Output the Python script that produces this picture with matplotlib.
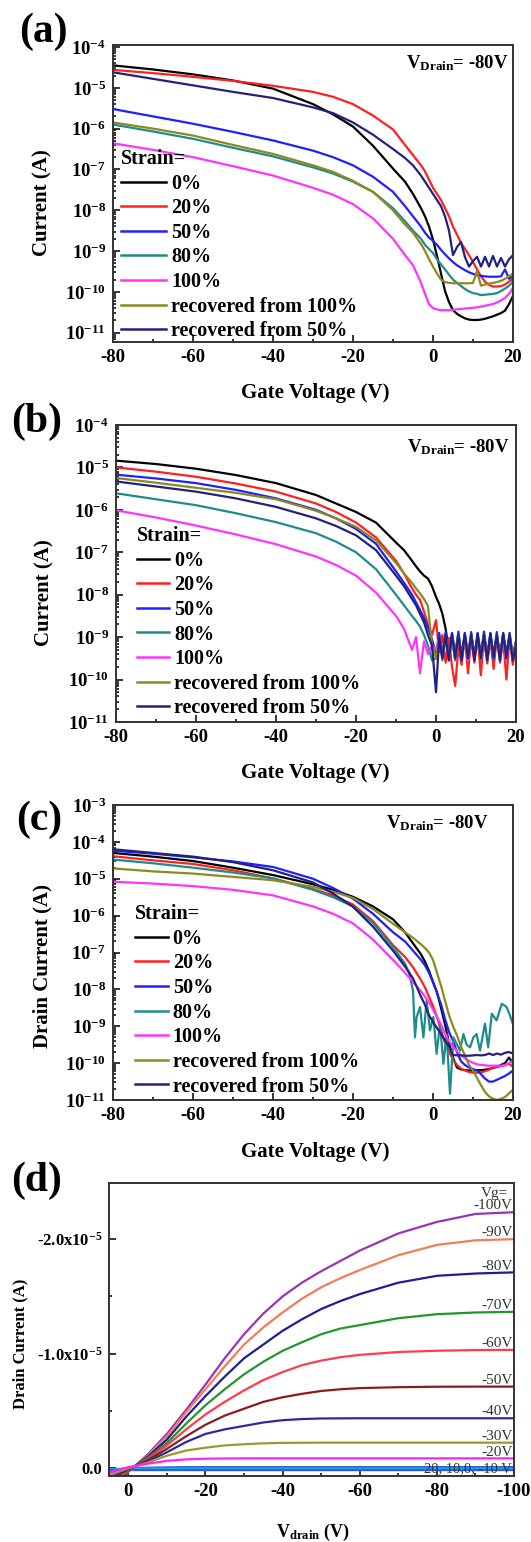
import matplotlib

matplotlib.use("Agg")
import matplotlib.pyplot as plt
import numpy as np
from matplotlib.lines import Line2D
from matplotlib.ticker import FixedLocator, FuncFormatter, LogLocator, NullFormatter

plt.rcParams.update({
    "font.family": "Liberation Serif",
    "font.weight": "bold",
    "mathtext.fontset": "custom",
    "mathtext.rm": "Liberation Serif:bold",
    "mathtext.bf": "Liberation Serif:bold",
    "mathtext.it": "Liberation Serif:bold",
    "axes.unicode_minus": False,
})

W, H = 531, 1542

STRAIN_LABELS = ["0%", "20%", "50%", "80%", "100%", "recovered from 100%", "recovered from 50%"]
STRAIN_COLORS = ["#000000", "#ff2020", "#2020ff", "#1f8c8c", "#ff33ff", "#8a8a1e", "#22227e"]

# panel (a): gate voltage (V) and log10 of current (A)
A_X = [-80, -70, -60, -50, -40, -30, -25, -20, -15, -10, -7, -5, -3, -2, -1, 0,
       1, 2, 3, 4, 5, 6, 7, 8, 9, 10, 11, 12, 13, 14, 15, 16, 17, 18, 19, 20]
A_0 = [-4.45, -4.55, -4.67, -4.82, -5.02, -5.4, -5.65, -5.95, -6.42, -6.98, -7.3, -7.6, -7.95, -8.15, -8.4, -8.72,
       -9.12, -9.55, -9.98, -10.25, -10.45, -10.54, -10.6, -10.65, -10.68, -10.69, -10.69, -10.68, -10.66, -10.63,
       -10.6, -10.56, -10.52, -10.46, -10.3, -10.1]
A_20 = [-4.56, -4.64, -4.73, -4.83, -4.95, -5.1, -5.22, -5.4, -5.68, -6.02, -6.4, -6.65, -6.9, -7.05, -7.25, -7.45,
        -7.6, -7.75, -7.95, -8.15, -8.4, -8.6, -8.8, -8.95, -9.1, -9.27, -9.45, -9.62, -9.75, -9.83,
        -9.87, -9.87, -9.86, -9.82, -9.75, -9.68]
A_50 = [-5.52, -5.7, -5.88, -6.08, -6.29, -6.54, -6.7, -6.9, -7.18, -7.55, -7.9, -8.15, -8.4, -8.55, -8.67, -8.75,
        -8.85, -8.97, -9.08, -9.18, -9.27, -9.35, -9.41, -9.47, -9.52, -9.56, -9.59, -9.61, -9.62, -9.63,
        -9.63, -9.63, -9.62, -9.45, -9.68, -9.62]
A_80 = [-5.9, -6.07, -6.25, -6.47, -6.68, -6.95, -7.1, -7.3, -7.55, -7.95, -8.27, -8.5, -8.7, -8.85, -8.95, -9.05,
        -9.2, -9.33, -9.45, -9.58, -9.7, -9.78, -9.86, -9.93, -9.99, -10.03, -10.05, -10.08, -10.07, -10.06,
        -10.05, -10.03, -9.98, -9.92, -9.85, -9.75]
A_100 = [-6.36, -6.52, -6.7, -6.92, -7.15, -7.45, -7.62, -7.85, -8.2, -8.7, -9.1, -9.35, -9.78, -10.05, -10.3, -10.4,
         -10.43, -10.45, -10.45, -10.45, -10.44, -10.43, -10.42, -10.41, -10.4, -10.39, -10.38, -10.36, -10.34, -10.32,
         -10.3, -10.26, -10.21, -10.15, -10.05, -9.9]
A_REC100 = [-5.85, -6.0, -6.17, -6.4, -6.62, -6.9, -7.06, -7.28, -7.55, -8.0, -8.35, -8.55, -8.83, -9.0, -9.2, -9.38,
            -9.55, -9.7, -9.76, -9.78, -9.79, -9.79, -9.79, -9.79, -9.79, -9.78, -9.5, -9.85, -9.82, -9.8,
            -9.78, -9.76, -9.73, -9.68, -9.62, -9.55]
A_REC50 = [-4.62, -4.78, -4.94, -5.1, -5.25, -5.48, -5.62, -5.85, -6.15, -6.5, -6.72, -6.9, -7.15, -7.3, -7.45, -7.6,
           -7.75, -7.9, -8.15, -8.5, -9.1, -8.9, -8.78, -9.15, -9.38, -9.25, -9.14, -9.38, -9.14, -9.38,
           -9.12, -9.38, -9.17, -9.38, -9.2, -9.1]

# panel (b)
B_X = [-80, -70, -60, -50, -40, -30, -25, -20, -15, -10, -8, -6, -5, -4, -3, -2, -1, 0,
       0.8, 1.6, 2.4, 3.2, 4.0, 4.8, 5.6, 6.4, 7.2, 8.0, 8.8, 9.6, 10.4, 11.2, 12.0, 12.8,
       13.6, 14.4, 15.2, 16.0, 16.8, 17.6, 18.4, 19.2, 20.0]
B_0 = [-4.84, -4.92, -5.03, -5.18, -5.37, -5.65, -5.85, -6.05, -6.3, -6.77, -6.95, -7.2, -7.33, -7.45, -7.55, -7.62,
       -7.8, -8.05,
       -8.22, -8.45, -8.8, -9.3, -8.98, -9.5, -8.95, -9.45, -8.97, -9.52, -8.95, -9.45, -8.98, -9.5, -8.95,
       -9.48, -8.95, -9.5, -8.98, -9.45, -8.95, -9.5, -8.97, -9.48, -9.1]
B_20 = [-5.0, -5.1, -5.22, -5.38, -5.57, -5.85, -6.05, -6.3, -6.65, -7.2, -7.5, -7.85, -8.0, -8.12, -8.4, -8.7,
        -8.95, -8.6,
        -9.35, -8.95, -9.6, -9.02, -9.7, -10.15, -9.25, -9.65, -9.0, -9.85, -9.02, -9.6, -9.0, -9.9, -9.0,
        -9.62, -9.05, -9.75, -9.0, -9.6, -9.05, -10.0, -9.0, -9.65, -9.2]
B_50 = [-5.17, -5.26, -5.37, -5.53, -5.73, -6.0, -6.2, -6.45, -6.8, -7.45, -7.72, -8.0, -8.18, -8.36, -8.55, -8.78,
        -9.05, -9.4,
        -8.9, -9.42, -8.88, -9.45, -8.9, -9.4, -8.87, -9.45, -8.9, -9.42, -8.88, -9.45, -8.9, -9.4, -8.87,
        -9.45, -8.9, -9.42, -8.88, -9.45, -8.9, -9.4, -8.9, -9.45, -9.1]
B_80 = [-5.61, -5.75, -5.89, -6.08, -6.29, -6.55, -6.75, -7.0, -7.4, -8.0, -8.25, -8.5, -8.62, -8.75, -8.95, -9.2,
        -9.55, -9.5,
        -9.0, -9.55, -9.0, -9.5, -9.05, -9.55, -9.0, -9.5, -9.05, -9.55, -9.0, -9.5, -9.05, -9.55, -9.0,
        -9.5, -9.05, -9.55, -9.0, -9.5, -9.05, -9.55, -9.0, -9.5, -9.2]
B_100 = [-6.01, -6.18, -6.37, -6.58, -6.81, -7.1, -7.3, -7.55, -7.95, -8.5, -8.8, -9.3, -9.0, -9.85, -9.1, -9.4,
         -9.2, -9.3,
         -9.05, -9.5, -9.0, -9.55, -9.05, -9.5, -9.0, -9.5, -9.05, -9.55, -9.0, -9.5, -9.05, -9.5, -9.0,
         -9.55, -9.05, -9.5, -9.0, -9.5, -9.05, -9.55, -9.0, -9.5, -9.2]
B_REC100 = [-5.25, -5.36, -5.48, -5.6, -5.75, -6.02, -6.2, -6.4, -6.72, -7.25, -7.5, -7.72, -7.85, -7.97, -8.1,
            -8.27, -9.2, -9.5,
            -9.0, -9.45, -8.95, -9.5, -9.0, -9.45, -8.95, -9.5, -9.0, -9.45, -8.95, -9.5, -9.0, -9.45, -8.95,
            -9.5, -9.0, -9.45, -8.95, -9.5, -9.0, -9.45, -8.95, -9.5, -9.15]
B_REC50 = [-5.33, -5.45, -5.57, -5.73, -5.93, -6.2, -6.38, -6.6, -6.95, -7.55, -7.8, -8.1, -8.25, -8.45, -8.65,
           -8.95, -9.2, -10.3,
           -9.0, -9.5, -8.95, -9.55, -8.92, -9.5, -8.95, -9.55, -8.92, -9.5, -8.95, -9.55, -8.92, -9.5, -8.95,
           -9.55, -8.92, -9.5, -8.95, -9.55, -8.92, -9.5, -8.95, -9.55, -9.2]

# panel (c)
C_X = A_X
C_0 = [-4.3, -4.4, -4.52, -4.7, -4.9, -5.15, -5.3, -5.49, -5.75, -6.1, -6.45, -6.75, -7.05, -7.25, -7.5, -7.8,
       -8.08, -8.5, -8.95, -9.45, -9.85, -10.12, -10.17, -10.19, -10.2, -10.2, -10.19, -10.19, -10.18, -10.16,
       -10.13, -10.1, -10.05, -10.0, -9.85, -10.0]
C_20 = [-4.39, -4.5, -4.6, -4.77, -4.99, -5.28, -5.45, -5.7, -6.15, -6.8, -7.12, -7.4, -7.75, -7.95, -8.2, -8.45,
        -8.75, -9.1, -9.45, -9.7, -9.9, -10.05, -10.15, -10.2, -10.24, -10.26, -10.26, -10.25, -10.22, -10.18,
        -10.12, -10.1, -10.08, -10.05, -10.02, -10.1]
C_50 = [-4.24, -4.32, -4.42, -4.53, -4.68, -5.0, -5.25, -5.54, -5.95, -6.45, -6.7, -6.95, -7.2, -7.35, -7.55, -7.8,
        -8.1, -8.4, -8.8, -9.15, -9.4, -9.7, -9.95, -10.05, -10.12, -10.16, -10.2, -10.3, -10.42, -10.5,
        -10.5, -10.45, -10.4, -10.35, -10.28, -10.2]
C80_X = [-80, -70, -60, -50, -40, -30, -25, -20, -15, -10, -7, -6, -5, -4.5, -4.1, -3.25, -2.4, -1.6, -0.75, 0.1,
         0.9, 1.75, 2.6, 3.4, 4.25, 5.1, 6.0, 6.75, 7.6, 8.4, 9.25, 10.1, 10.9, 11.75, 13.0, 13.8, 14.7, 15.9,
         17.2, 18.4, 19.25, 20]
C_80 = [-4.48, -4.58, -4.7, -4.83, -4.99, -5.3, -5.5, -5.75, -6.2, -6.85, -7.3, -7.55, -8.03, -9.3, -8.75, -8.48,
        -9.3, -8.3, -9.11, -8.75, -9.75, -8.93, -10.02, -9.21, -10.83, -9.3, -9.5, -9.66, -9.21, -9.5, -9.57,
        -9.3, -9.21, -9.66, -8.93, -9.57, -8.66, -8.84, -8.39, -8.48, -8.71, -8.95]
C_100 = [-5.08, -5.13, -5.2, -5.3, -5.45, -5.75, -5.95, -6.21, -6.65, -7.2, -7.55, -7.8, -8.05, -8.2, -8.35, -8.55,
         -8.75, -8.95, -9.2, -9.4, -9.55, -9.68, -9.78, -9.87, -9.94, -9.99, -10.03, -10.05, -10.06, -10.07,
         -10.07, -10.07, -10.07, -10.06, -10.0, -9.94]
C_REC100 = [-4.72, -4.8, -4.86, -4.95, -5.04, -5.22, -5.35, -5.52, -5.82, -6.22, -6.45, -6.6, -6.78, -6.88, -7.0,
            -7.2, -7.55, -7.9, -8.3, -8.7, -9.0, -9.25, -9.55, -9.8, -10.05, -10.2, -10.4, -10.6, -10.78, -10.9,
            -10.97, -11.0, -10.97, -10.92, -10.82, -10.72]
C_REC50 = [-4.2, -4.3, -4.4, -4.55, -4.77, -5.1, -5.4, -5.76, -6.3, -6.95, -7.38, -7.7, -8.2, -8.42, -8.7, -8.88,
           -9.05, -9.2, -9.38, -9.55, -9.78, -9.79, -9.79, -9.8, -9.8, -9.79, -9.78, -9.79, -9.78, -9.74,
           -9.78, -9.74, -9.77, -9.72, -9.7, -9.74]

# panel (d): drain voltage (V) and drain current in units of 1e-5 A
D_X = [5, 0, -5, -10, -15, -20, -25, -30, -35, -40, -45, -50, -55, -60, -70, -80, -90, -100]
D_VG100 = [0.2, 0.03, -0.12, -0.3, -0.51, -0.73, -0.96, -1.17, -1.35, -1.5, -1.62, -1.72, -1.81, -1.9,
           -2.05, -2.15, -2.22, -2.235]
D_VG90 = [0.18, 0.03, -0.11, -0.28, -0.49, -0.69, -0.89, -1.08, -1.23, -1.36, -1.48, -1.58, -1.66, -1.73,
          -1.86, -1.95, -1.99, -2.0]
D_VG80 = [0.16, 0.025, -0.1, -0.25, -0.45, -0.63, -0.8, -0.96, -1.08, -1.2, -1.3, -1.39, -1.46, -1.52,
          -1.62, -1.68, -1.7, -1.71]
D_VG70 = [0.14, 0.02, -0.09, -0.22, -0.39, -0.55, -0.69, -0.82, -0.93, -1.025, -1.1, -1.17, -1.22, -1.25,
          -1.31, -1.345, -1.36, -1.366]
D_VG60 = [0.12, 0.015, -0.08, -0.2, -0.34, -0.47, -0.58, -0.68, -0.77, -0.84, -0.9, -0.94, -0.97, -0.99,
          -1.015, -1.026, -1.032, -1.034]
D_VG50 = [0.1, 0.01, -0.07, -0.17, -0.28, -0.38, -0.46, -0.52, -0.58, -0.62, -0.65, -0.675, -0.69, -0.7,
          -0.708, -0.712, -0.713, -0.713]
D_VG40 = [0.08, 0.005, -0.06, -0.14, -0.23, -0.3, -0.34, -0.37, -0.4, -0.42, -0.43, -0.435, -0.436, -0.437,
          -0.437, -0.437, -0.437, -0.437]
D_VG30 = [0.06, 0.0, -0.05, -0.11, -0.155, -0.18, -0.2, -0.21, -0.218, -0.222, -0.223, -0.224, -0.224, -0.224,
          -0.224, -0.224, -0.224, -0.224]
D_VG20 = [0.04, -0.01, -0.04, -0.065, -0.078, -0.084, -0.086, -0.087, -0.087, -0.087, -0.087, -0.087, -0.087,
          -0.087, -0.087, -0.087, -0.087, -0.087]
D_VGP20 = [0.02, 0.015, 0.015, 0.015, 0.015, 0.015, 0.015, 0.015, 0.015, 0.015, 0.015, 0.015, 0.015, 0.015,
           0.015, 0.015, 0.015, 0.015]
D_VGP10 = [0.015, 0.008, 0.008, 0.008, 0.008, 0.008, 0.008, 0.008, 0.008, 0.008, 0.008, 0.008, 0.008, 0.008,
           0.008, 0.008, 0.008, 0.008]
D_VG0 = [0.01, 0.0, 0.0, 0.0, 0.0, 0.0, 0.0, 0.0, 0.0, 0.0, 0.0, 0.0, 0.0, 0.0, 0.0, 0.0, 0.0, 0.0]
D_VGM10 = [0.02, 0.0, -0.005, -0.008, -0.01, -0.01, -0.01, -0.01, -0.01, -0.01, -0.01, -0.01, -0.01, -0.01,
           -0.01, -0.01, -0.01, -0.01]
D_LABELS = ["-100V", "-90V", "-80V", "-70V", "-60V", "-50V", "-40V", "-30V", "-20V"]

fig = plt.figure(figsize=(W / 100, H / 100), dpi=100)


def add_axes_px(left, top, right, bottom):
    return fig.add_axes([left / W, 1 - bottom / H, (right - left) / W, (bottom - top) / H])


def fig_text(px, py, text, **kw):
    fig.text(px / W, 1 - py / H, text, ha="center", va="center", **kw)


def style_axes(ax):
    for spine in ax.spines.values():
        spine.set_linewidth(1.4)
        spine.set_color("#333333")
    ax.tick_params(which="both", direction="in", top=False, right=False, width=1.1, labelsize=13.5)
    ax.tick_params(which="major", length=5, pad=5)
    ax.tick_params(which="minor", length=2.5)


def transfer_panel(box, curves, ylim, legend_anchor, handle_len, vdrain_x, vdrain_y):
    ax = add_axes_px(*box)
    for (xs, logs), color in zip(curves, STRAIN_COLORS):
        ax.plot(xs, 10 ** np.array(logs), color=color, lw=1.6)
    ax.set_yscale("log")
    ax.set_xlim(-80, 20)
    ax.set_ylim(*ylim)
    ax.set_xticks([-80, -60, -40, -20, 0, 20])
    ax.set_xticks([-70, -50, -30, -10, 10], minor=True)
    lo, hi = int(np.ceil(np.log10(ylim[0]))), int(np.floor(np.log10(ylim[1])))
    ax.yaxis.set_major_locator(FixedLocator([10.0 ** k for k in range(lo, hi + 1)]))
    ax.yaxis.set_major_formatter(FuncFormatter(lambda v, _: r"$\mathbf{10^{%d}}$" % round(np.log10(v))))
    ax.yaxis.set_minor_locator(LogLocator(base=10, subs=np.arange(2, 10), numticks=50))
    ax.yaxis.set_minor_formatter(NullFormatter())
    style_axes(ax)
    handles = [Line2D([], [], color=c, lw=1.8) for c in STRAIN_COLORS]
    ax.legend(handles, STRAIN_LABELS, title="Strain=", loc="upper left", bbox_to_anchor=legend_anchor,
              frameon=False, alignment="left", prop={"weight": "bold", "size": 14.5},
              title_fontproperties={"weight": "bold", "size": 14.5}, handlelength=handle_len,
              handletextpad=0.25, labelspacing=0.23, borderaxespad=0, borderpad=0)
    ax.text(vdrain_x, vdrain_y, r"$\mathbf{V}_{\mathbf{Drain}}$= -80V", transform=ax.transAxes,
            ha="right", va="center", fontsize=13.5)
    return ax


transfer_panel((113, 45, 513, 342),
               [(A_X, A_0), (A_X, A_20), (A_X, A_50), (A_X, A_80), (A_X, A_100), (A_X, A_REC100),
                (A_X, A_REC50)],
               (5.9e-12, 1.12e-4), (0.02, 0.65), 2.25, 0.99, 0.94)
transfer_panel((116, 425, 516, 722),
               [(B_X, B_0), (B_X, B_20), (B_X, B_50), (B_X, B_80), (B_X, B_100), (B_X, B_REC100),
                (B_X, B_REC50)],
               (1e-11, 1e-4), (0.0525, 0.66), 1.6, 0.985, 0.924)
transfer_panel((113, 805, 513, 1100),
               [(C_X, C_0), (C_X, C_20), (C_X, C_50), (C80_X, C_80), (C_X, C_100), (C_X, C_REC100),
                (C_X, C_REC50)],
               (1e-11, 1e-3), (0.056, 0.664), 1.6, 0.94, 0.94)

# panel (d): output curves
axd = add_axes_px(109, 1183, 514, 1476)
d_curves = [D_VG100, D_VG90, D_VG80, D_VG70, D_VG60, D_VG50, D_VG40, D_VG30, D_VG20]
d_colors = ["#9933b8", "#f77b55", "#1e1e96", "#23962e", "#ff3c4c", "#8b1c1c", "#2a2aa0", "#9a9a2a", "#ff22ff"]
for ys, color in zip([D_VGM10, D_VG0, D_VGP10, D_VGP20], ["#2a5ad0", "#1aa0a0", "#22b4e0", "#3355ff"]):
    axd.plot(D_X, np.array(ys) * 1e-5, color=color, lw=1.6)
for ys, color, label in zip(d_curves, d_colors, D_LABELS):
    axd.plot(D_X, np.array(ys) * 1e-5, color=color, lw=1.6)
    axd.annotate(label, xy=(D_X[-1], ys[-1] * 1e-5), xytext=(-1, 4.5), textcoords="offset points",
                 ha="right", va="center", fontsize=11, fontweight="normal", color="#333333")
axd.text(0.985, 0.965, "Vg=", transform=axd.transAxes, ha="right", va="center", fontsize=11,
         fontweight="normal", color="#333333")
axd.text(0.995, 0.025, "20, 10,0, -10 V", transform=axd.transAxes, ha="right", va="center", fontsize=10.5,
         fontweight="normal", color="#333333")
axd.set_xlim(5, -100)
axd.set_ylim(0.067e-5, -2.49e-5)
axd.set_xticks([0, -20, -40, -60, -80, -100])
axd.set_xticks([-10, -30, -50, -70, -90], minor=True)
axd.set_yticks([0, -1e-5, -2e-5])
axd.set_yticklabels(["0.0", r"-1.0x10$^{\mathbf{-5}}$", r"-2.0x10$^{\mathbf{-5}}$"])
axd.set_yticks([-0.5e-5, -1.5e-5], minor=True)
style_axes(axd)
axd.tick_params(axis="y", labelsize=12)

# panel letters and axis titles
for px, py, letter in [(43, 32, "(a)"), (37, 422, "(b)"), (39, 820, "(c)"), (37, 1181, "(d)")]:
    fig_text(px, py, letter, fontsize=30, fontweight="bold")
for py in [393, 773, 1152]:
    fig_text(315, py, "Gate Voltage (V)", fontsize=15, fontweight="bold")
fig_text(42, 203, "Current (A)", fontsize=15, fontweight="bold", rotation=90)
fig_text(44, 593, "Current (A)", fontsize=15, fontweight="bold", rotation=90)
fig_text(42, 966, "Drain Current (A)", fontsize=15, fontweight="bold", rotation=90)
fig_text(20, 1344, "Drain Current (A)", fontsize=12, fontweight="bold", rotation=90)
fig_text(313, 1532, r"$\mathbf{V}_{\mathbf{drain}}$ (V)", fontsize=13, fontweight="bold")

fig.savefig("out.png", dpi=100)
